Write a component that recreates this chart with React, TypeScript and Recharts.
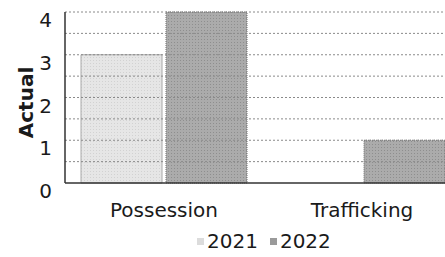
import { Bar, BarChart, Legend, ReferenceLine, XAxis, YAxis, Label } from "recharts";

const categories = ["Possession", "Trafficking"];
const values2021 = [3, 0];
const values2022 = [4, 1];
const yTicks = [0, 1, 2, 3, 4];
const gridValues = [0.5, 1, 1.5, 2, 2.5, 3, 3.5, 4];

const data = categories.map((name, i) => ({
  name,
  y2021: values2021[i],
  y2022: values2022[i],
}));

const FONT = "'DejaVu Sans', Verdana, sans-serif";

function LegendBox() {
  const items = [
    { label: "2021", color: "#dcdcdc" },
    { label: "2022", color: "#9a9a9a" },
  ];
  return (
    <div style={{ display: "flex", paddingLeft: 197, fontFamily: FONT, fontSize: 20, color: "#1a1a1a", height: 32, alignItems: "center" }}>
      {items.map((it) => (
        <div key={it.label} style={{ display: "flex", alignItems: "center", marginRight: 12 }}>
          <span style={{ width: 7, height: 7, background: it.color, marginRight: 3, display: "inline-block" }} />
          <span>{it.label}</span>
        </div>
      ))}
    </div>
  );
}

// rotated axis title, placed left of the tick labels
function AxisTitle(props: any) {
  const vb = props.viewBox || {};
  const cx = 26;
  const cy = (vb.y ?? 0) + (vb.height ?? 0) / 2 + 5;
  return (
    <text
      x={cx}
      y={cy}
      transform={`rotate(-90 ${cx} ${cy})`}
      textAnchor="middle"
      dominantBaseline="central"
      style={{ fontFamily: FONT, fontWeight: 700, fontSize: 20, fill: "#1a1a1a" }}
    >
      Actual
    </text>
  );
}

export default function App() {
  return (
    <div style={{ position: "absolute", left: 0, top: 0, width: 445, height: 257, overflow: "hidden", background: "#fff" }}>
      <BarChart
        width={470}
        height={257}
        data={data}
        margin={{ top: 12, right: 9, left: 0, bottom: 0 }}
        barCategoryGap={16}
        barGap={4}
      >
        <defs>
          <pattern id="dots21" width="3" height="3" patternUnits="userSpaceOnUse">
            <rect width="3" height="3" fill="#e6e6e6" />
            <rect width="1" height="1" fill="#d2d2d2" />
          </pattern>
          <pattern id="dots22" width="3" height="3" patternUnits="userSpaceOnUse">
            <rect width="3" height="3" fill="#ababab" />
            <rect width="1" height="1" fill="#8e8e8e" />
          </pattern>
        </defs>
        {gridValues.map((v) => (
          <ReferenceLine key={v} y={v} stroke="#8a8a8a" strokeDasharray="2 2" />
        ))}
        <XAxis
          dataKey="name"
          tickLine={false}
          axisLine={{ stroke: "#333", strokeWidth: 1.5 }}
          tickMargin={14}
          height={42}
          tick={{ fill: "#1a1a1a", fontSize: 20, fontFamily: FONT }}
        />
        <YAxis
          domain={[0, 4]}
          ticks={yTicks}
          width={65}
          tickLine={false}
          tickMargin={7}
          axisLine={{ stroke: "#333", strokeWidth: 1.5 }}
          tick={{ fill: "#1a1a1a", fontSize: 20, fontFamily: FONT, dy: 8 }}
        >
          <Label content={AxisTitle} />
        </YAxis>
        <Legend verticalAlign="bottom" height={32} content={() => <LegendBox />} />
        <Bar dataKey="y2021" name="2021" fill="url(#dots21)" stroke="#a8a8a8" strokeWidth={1} isAnimationActive={false} />
        <Bar dataKey="y2022" name="2022" fill="url(#dots22)" stroke="#6e6e6e" strokeWidth={1} strokeDasharray="1 1" isAnimationActive={false} />
      </BarChart>
    </div>
  );
}
